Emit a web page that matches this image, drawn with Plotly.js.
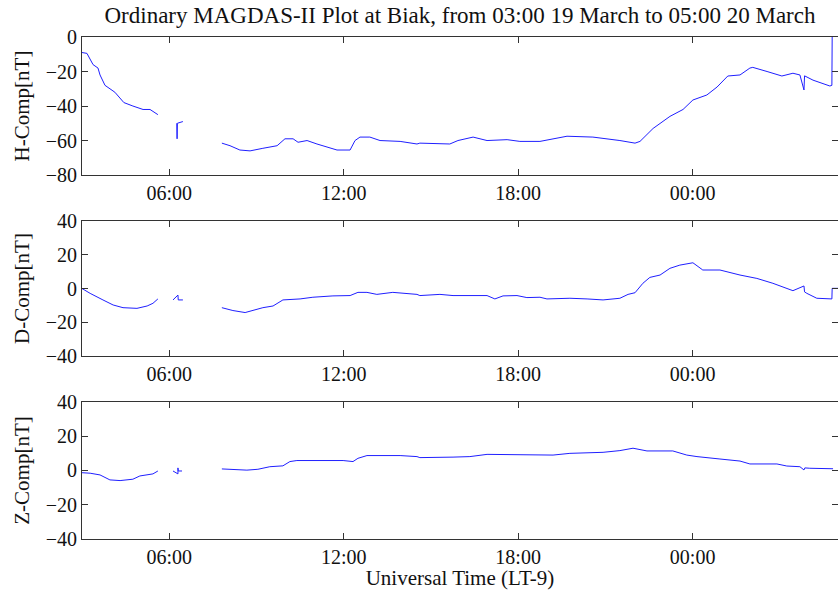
<!DOCTYPE html>
<html>
<head>
<meta charset="utf-8">
<script src="https://cdn.plot.ly/plotly-3.0.1.min.js"></script>
<style>html,body{margin:0;padding:0;background:#fff;}#chart{width:838px;height:590px;}</style>
</head>
<body>
<div id="chart"></div>
<script>
// Time in hours UT counted from 00:00 19 March (03:00 = 3, 05:00 20 March = 29)
const tickHours = [6, 12, 18, 24];
const tickLabels = ["06:00", "12:00", "18:00", "00:00"];

const timeH = [3.00,3.17,3.38,3.55,3.62,3.79,4.13,4.44,4.75,5.10,5.34,5.61,5.70,
  6.26,6.27,6.28,6.47,6.60,
  7.81,8.09,8.43,8.78,9.22,9.71,9.98,10.26,10.43,10.74,11.08,11.43,11.77,12.22,12.39,12.56,12.90,13.25,13.94,14.52,
  14.62,15.65,15.93,16.45,16.93,17.62,18.06,18.75,19.20,19.68,20.57,21.05,21.50,22.02,22.19,22.64,23.22,23.67,24.01,
  24.49,24.84,25.21,25.63,25.97,26.07,26.56,27.07,27.45,27.69,27.83,27.85,28.14,28.72,28.79,28.80];
const valH = [-9,-9.5,-16,-18,-22,-28,-32,-38,-40,-42,-42,-45,null,
  -50,-59,-50,-49,null,
  -61.5,-63,-65.5,-66,-64.5,-63,-59,-59,-61,-60,-62,-64,-65.5,-65.5,-60,-58,-58,-60,-60.5,-62,
  -61.5,-62,-60,-58,-60,-59.5,-60.5,-60.5,-59,-57.5,-58,-59,-60,-61.5,-60.5,-53,-46,-42,-36.5,
  -33.6,-29,-22.6,-22,-18,-17.6,-20,-22.6,-21,-22,-30.7,-22.5,-25,-28.4,-28,0];

const timeD = [3.00,3.28,3.72,4.07,4.41,4.89,5.24,5.44,5.61,5.70,
  6.13,6.30,6.31,6.47,6.60,
  7.81,8.19,8.61,8.88,9.22,9.57,9.91,10.50,10.94,11.63,12.22,12.49,12.80,13.14,13.69,14.52,
  14.62,15.31,15.76,16.93,17.20,17.48,17.96,18.30,18.75,18.99,19.78,20.37,20.92,21.50,21.78,22.02,22.29,22.53,22.88,
  23.22,23.56,24.01,24.35,24.94,25.63,26.21,26.76,27.45,27.83,27.85,27.93,28.27,28.79,28.80,29.00];
const valD = [0,-2.9,-6.8,-9.8,-11.4,-11.8,-10.4,-8.8,-6.2,null,
  -6.8,-3.9,-6.8,-6.8,null,
  -11.4,-13.1,-14.3,-13.1,-11.4,-10.4,-6.8,-6.2,-5.2,-4.4,-4.2,-2.3,-2.3,-3.5,-2.3,-3.5,
  -4.2,-3.5,-4.2,-4.2,-6.2,-4.4,-4.2,-5.4,-5.2,-6.2,-5.8,-6.2,-6.8,-5.8,-3.5,-2.5,3.1,6.6,8,
  12,13.9,15.3,11,11,8,6,3.1,-1.3,1.5,-2,-2.9,-5.8,-6.2,0.1,0.1];

const timeZ = [3.00,3.28,3.62,3.96,4.31,4.75,4.99,5.44,5.61,5.70,
  6.13,6.30,6.30,6.31,6.44,6.60,
  7.81,8.19,8.67,9.05,9.46,9.91,10.15,10.39,11.08,11.98,12.32,12.49,12.80,13.35,13.94,14.52,
  14.62,15.76,16.34,16.93,18.06,19.20,19.78,20.92,21.50,21.95,22.43,23.32,23.80,24.15,24.94,25.63,25.97,
  26.90,27.24,27.69,27.83,27.86,28.03,28.83];
const valZ = [-1.3,-1.6,-2.6,-5.5,-5.9,-5.1,-3.2,-2,-0.3,null,
  -0.3,-2,1.5,-0.3,-0.3,null,
  0.9,0.7,0.2,0.7,2.2,2.7,5.2,5.8,5.8,5.8,5.2,7.1,8.7,8.7,8.7,8.1,
  7.5,7.8,8.1,9.4,9,9,10,10.6,11.6,13,11.4,11.4,9,8.1,6.7,5.5,3.8,
  3.8,2.6,2.2,0.3,1.5,1.3,1];

const fam = "Liberation Serif, Times New Roman, serif";
const font = {family: fam, size: 20, color: "#111"};
const xTickFont = {family: fam, size: 20, color: "#111"};
const lineStyle = {color: "#1f1fff", width: 1};

const traces = [
  {x: timeH, y: valH, xaxis: "x", yaxis: "y", mode: "lines", line: lineStyle, connectgaps: false, name: "H"},
  {x: timeD, y: valD, xaxis: "x2", yaxis: "y2", mode: "lines", line: lineStyle, connectgaps: false, name: "D"},
  {x: timeZ, y: valZ, xaxis: "x3", yaxis: "y3", mode: "lines", line: lineStyle, connectgaps: false, name: "Z"}
];

function xAx(anchor, extra) {
  return Object.assign({
    anchor: anchor, range: [3, 29], tickmode: "array", tickvals: tickHours, ticktext: tickLabels,
    ticks: "inside", ticklen: 6, tickcolor: "#333", showline: true, linecolor: "#333", linewidth: 1,
    mirror: "ticks", showgrid: false, zeroline: false, tickfont: xTickFont
  }, extra || {});
}
function yAx(anchor, domain, range, vals, title) {
  return {
    anchor: anchor, domain: domain, range: range, tickmode: "array", tickvals: vals,
    ticks: "inside", ticklen: 6, tickcolor: "#333", showline: true, linecolor: "#333", linewidth: 1,
    mirror: "ticks", showgrid: false, zeroline: false, tickfont: font,
    title: {text: title, font: {family: fam, size: 21, color: "#111"}, standoff: 10}
  };
}

const layout = {
  width: 838, height: 590,
  margin: {l: 82, r: 0, t: 37, b: 51},
  paper_bgcolor: "#fff", plot_bgcolor: "#fff",
  showlegend: false,
  font: font,
  title: {text: "Ordinary MAGDAS-II Plot at Biak, from 03:00 19 March to 05:00 20 March",
    font: {family: fam, size: 23, color: "#111"}, x: 0.5, xref: "paper", xanchor: "center",
    y: 1 - 15/590, yref: "container", yanchor: "middle"},
  xaxis: xAx("y"),
  xaxis2: xAx("y2"),
  xaxis3: xAx("y3", {title: {text: "Universal Time (LT-9)", font: {family: fam, size: 21, color: "#111"}, standoff: 4}}),
  yaxis: yAx("x", [0.725, 1], [-80, 0], [-80, -60, -40, -20, 0], "H-Comp[nT]"),
  yaxis2: yAx("x2", [0.365, 0.633], [-40, 40], [-40, -20, 0, 20, 40], "D-Comp[nT]"),
  yaxis3: yAx("x3", [0, 0.273], [-40, 40], [-40, -20, 0, 20, 40], "Z-Comp[nT]")
};

Plotly.newPlot("chart", traces, layout, {displayModeBar: false, staticPlot: true});
</script>
</body>
</html>
